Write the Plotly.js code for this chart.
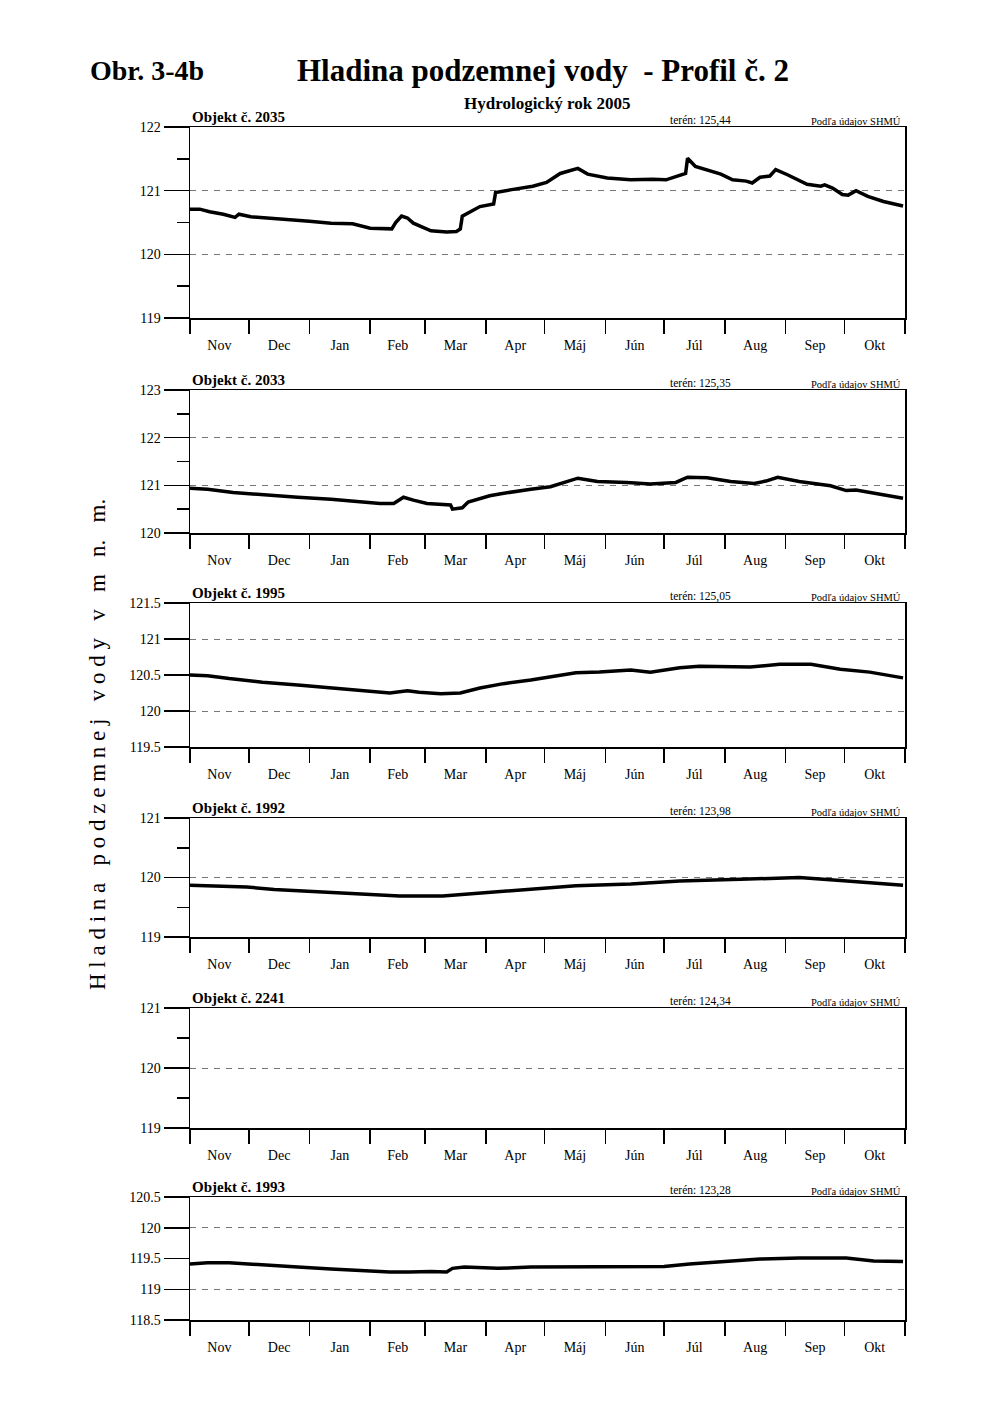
<!DOCTYPE html>
<html>
<head>
<meta charset="utf-8">
<script src="https://cdn.plot.ly/plotly-3.0.1.min.js"></script>
<style>html,body{margin:0;padding:0;background:#fff;}#chart{width:1000px;height:1414px;} #log{position:absolute;left:0;bottom:0;font-size:11px;color:#c00;white-space:pre-wrap;margin:0}</style>
</head>
<body>
<div id="chart"></div>
<pre id="log"></pre>
<script>
// ---- Data: day offsets from 1 Nov 2004 (hydrological year 2005) and water levels [m n. m.]
var monthLabels = ["Nov","Dec","Jan","Feb","Mar","Apr","Máj","Jún","Júl","Aug","Sep","Okt"];
var monthStarts = ["2004-11-01","2004-12-01","2005-01-01","2005-02-01","2005-03-01","2005-04-01",
                   "2005-05-01","2005-06-01","2005-07-01","2005-08-01","2005-09-01","2005-10-01","2005-11-01"];

var objekty = ["2035","2033","1995","1992","2241","1993"];
var teren   = ["125,44","125,35","125,05","123,98","124,34","123,28"];

var d2035 = [0,5,10,17,23,25,31,46,61,72,82,83,92,103,105,108,111,114,123,131,136,138,139,148,155,156,165,175,182,189,198,203,213,225,236,243,253,254,258,265,271,277,284,287,291,296,299,305,315,322,324,328,333,336,340,346,354,364];
var v2035 = [120.71,120.71,120.67,120.63,120.58,120.63,120.59,120.56,120.52,120.49,120.47,120.48,120.41,120.40,120.50,120.60,120.57,120.49,120.37,120.35,120.36,120.40,120.60,120.75,120.79,120.97,121.02,121.07,121.13,121.27,121.35,121.26,121.20,121.17,121.18,121.17,121.27,121.51,121.38,121.31,121.26,121.17,121.15,121.12,121.21,121.23,121.33,121.25,121.10,121.07,121.09,121.04,120.94,120.93,121.00,120.91,120.83,120.76];

var d2033 = [0,9,22,37,55,72,88,97,104,109,114,121,133,134,139,142,153,158,174,184,198,208,223,235,248,254,264,276,288,294,300,311,327,335,340,351,364];
var v2033 = [120.94,120.92,120.85,120.80,120.75,120.71,120.65,120.62,120.62,120.75,120.69,120.62,120.59,120.50,120.53,120.65,120.78,120.82,120.92,120.97,121.15,121.08,121.06,121.03,121.06,121.17,121.16,121.08,121.04,121.09,121.17,121.08,120.99,120.89,120.90,120.82,120.73];

var d1995 = [0,9,20,37,55,72,89,102,111,117,128,138,148,160,174,197,209,225,235,250,260,276,286,301,317,332,347,364];
var v1995 = [120.50,120.49,120.45,120.40,120.36,120.32,120.28,120.25,120.28,120.26,120.24,120.25,120.32,120.38,120.43,120.53,120.54,120.57,120.54,120.60,120.62,120.62,120.61,120.65,120.65,120.58,120.54,120.46];

var d1992 = [0,10,29,43,63,89,107,129,148,174,197,225,250,281,311,332,352,364];
var v1992 = [119.87,119.86,119.84,119.80,119.77,119.72,119.69,119.69,119.74,119.80,119.86,119.89,119.94,119.97,120.00,119.95,119.90,119.87];

var d2241 = [];
var v2241 = [];

var d1993 = [0,9,20,37,55,72,89,102,112,123,131,134,140,157,174,179,213,242,255,274,291,311,335,349,364];
var v1993 = [119.41,119.43,119.43,119.39,119.36,119.33,119.30,119.28,119.28,119.29,119.28,119.34,119.36,119.34,119.36,119.36,119.37,119.37,119.41,119.45,119.49,119.51,119.51,119.46,119.45];

var seriesList = [[d2035,v2035],[d2033,v2033],[d1995,v1995],[d1992,v1992],[d2241,v2241],[d1993,v1993]];

(function(){
  // ---- Layout configuration (pixels on the 1000x1414 page)
  var PAGE_W = 1000, PAGE_H = 1414;
  var panelPx = [[127,318],[390,533],[603,747],[818,937],[1008,1128],[1197,1320]];
  var yRanges = [[119,122],[120,123],[119.5,121.5],[119,121],[119,121],[118.5,120.5]];
  var halfStep = [false,false,true,false,false,true]; // labels every 0.5, grid only at integers

  var FONT = "Liberation Serif, Times New Roman, serif";
  var GRID = "#777", GRIDDASH = "6px,6px";
  var day0 = Date.UTC(2004,10,1);
  function toDate(d){ return day0 + d*86400000; }

  var bounds = monthStarts.map(function(s){ return Date.parse(s+"T00:00:00Z"); });
  var mids = [];
  for (var i=0;i<monthLabels.length;i++){ mids.push((bounds[i]+bounds[i+1])/2); }
  var blank = bounds.map(function(){ return ""; });

  var traces = [];
  var layout = {
    width: PAGE_W, height: PAGE_H, autosize:false,
    margin:{l:0,r:0,t:0,b:0},
    paper_bgcolor:"#fff", plot_bgcolor:"#fff",
    showlegend:false,
    font:{family:FONT, color:"#000", size:14},
    annotations:[]
  };

  var extraY = 13;
  for (var p=0;p<6;p++){
    var sfx = p===0 ? "" : String(p+1);
    var xo = String(p+7);
    var dTop = 1 - panelPx[p][0]/PAGE_H, dBot = 1 - panelPx[p][1]/PAGE_H;
    traces.push({
      x: seriesList[p][0].map(toDate), y: seriesList[p][1],
      xaxis:"x"+sfx, yaxis:"y"+sfx,
      type:"scatter", mode:"lines",
      line:{color:"#000", width:3.5},
      hoverinfo:"skip"
    });
    traces.push({x:[], y:[], xaxis:"x"+xo, yaxis:"y"+sfx, type:"scatter", mode:"lines", hoverinfo:"skip"});

    layout["xaxis"+sfx] = {
      type:"date", domain:[0.19,0.905], anchor:"y"+sfx,
      range:[bounds[0], bounds[12]],
      tickmode:"array", tickvals:bounds, ticktext:blank,
      ticks:"outside", ticklen:14, tickwidth:1.5, tickcolor:"#000",
      showline:true, linecolor:"#000", linewidth:1.5, mirror:true,
      showgrid:false, zeroline:false, fixedrange:true
    };
    layout["xaxis"+xo] = {
      type:"date", domain:[0.19,0.905], anchor:"y"+sfx, overlaying:"x"+sfx, side:"bottom",
      range:[bounds[0], bounds[12]],
      tickmode:"array", tickvals:mids, ticktext:monthLabels,
      ticks:"outside", ticklen:14, tickcolor:"rgba(0,0,0,0)",
      tickfont:{family:FONT,size:14,color:"#000"},
      showline:false, showgrid:false, zeroline:false, fixedrange:true
    };

    var r = yRanges[p];
    var ya = {
      domain:[dBot, dTop], anchor:"x"+sfx, range:r,
      showline:true, linecolor:"#000", linewidth:1.5, mirror:true,
      zeroline:false, fixedrange:true,
      ticks:"outside", ticklen:25, tickwidth:1.5, tickcolor:"#000",
      tickfont:{family:FONT,size:14,color:"#000"}
    };
    if (halfStep[p]){
      ya.tickmode = "linear"; ya.tick0 = r[0]; ya.dtick = 0.5;
      ya.showgrid = false;
      var yo = String(extraY); extraY++;
      layout["yaxis"+yo] = {
        domain:[dBot, dTop], anchor:"x"+sfx, overlaying:"y"+sfx, range:r,
        tickmode:"linear", tick0:0, dtick:1, ticks:"", showticklabels:false,
        showgrid:true, gridcolor:GRID, gridwidth:1, griddash:GRIDDASH,
        showline:false, zeroline:false, fixedrange:true
      };
      traces.push({x:[], y:[], xaxis:"x"+sfx, yaxis:"y"+yo, type:"scatter", mode:"lines", hoverinfo:"skip"});
    } else {
      ya.tickmode = "linear"; ya.tick0 = r[0]; ya.dtick = 1;
      ya.showgrid = true; ya.gridcolor = GRID; ya.gridwidth = 1; ya.griddash = GRIDDASH;
      ya.minor = {dtick:0.5, ticks:"outside", ticklen:12, tickwidth:1.5, tickcolor:"#000", showgrid:false};
    }
    layout["yaxis"+sfx] = ya;

    layout.annotations.push({
      xref:"paper", yref:"paper", x:0.19, y:dTop, xanchor:"left", yanchor:"bottom", yshift:0,
      text:"<b>Objekt č. "+objekty[p]+"</b>", showarrow:false,
      font:{family:FONT,size:15,color:"#000"}
    });
    layout.annotations.push({
      xref:"paper", yref:"paper", x:0.668, y:dTop, xanchor:"left", yanchor:"bottom", yshift:-2,
      text:"terén: "+teren[p], showarrow:false,
      font:{family:FONT,size:11.5,color:"#000"}
    });
    layout.annotations.push({
      xref:"paper", yref:"paper", x:0.903, y:dTop, xanchor:"right", yanchor:"bottom", yshift:-2,
      text:"Podľa údajov SHMÚ", showarrow:false,
      font:{family:FONT,size:10.5,color:"#000"}
    });
  }

  layout.annotations.push({
    xref:"paper", yref:"paper", x:0.088, y:1-70/PAGE_H, xanchor:"left", yanchor:"middle",
    text:"<b>Obr. 3-4b</b>", showarrow:false, font:{family:FONT,size:28,color:"#000"}
  });
  layout.annotations.push({
    xref:"paper", yref:"paper", x:0.543, y:1-70/PAGE_H, xanchor:"center", yanchor:"middle",
    text:"<b>Hladina podzemnej vody  - Profil č. 2</b>", showarrow:false, font:{family:FONT,size:31,color:"#000"}
  });
  layout.annotations.push({
    xref:"paper", yref:"paper", x:0.547, y:1-104/PAGE_H, xanchor:"center", yanchor:"middle",
    text:"<b>Hydrologický rok 2005</b>", showarrow:false, font:{family:FONT,size:17,color:"#000"}
  });
  layout.annotations.push({
    xref:"paper", yref:"paper", x:0.097, y:1-745/PAGE_H, xanchor:"center", yanchor:"middle",
    textangle:-90,
    text:"H l a d i n a   p o d z e m n e j   v o d y   v   m   n.   m.", showarrow:false,
    font:{family:FONT,size:23,color:"#000"}
  });

  try {
    Plotly.newPlot("chart", traces, layout, {staticPlot:true, displayModeBar:false});
  } catch(e){
    document.getElementById("log").textContent = String(e && e.stack ? e.stack.slice(0,800) : e);
  }
})();
</script>
</body>
</html>
